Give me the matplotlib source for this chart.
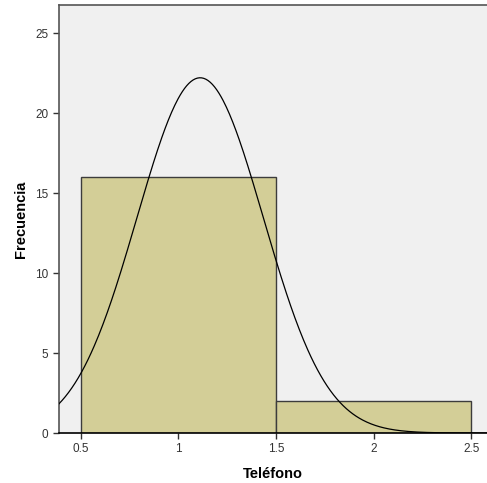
import matplotlib
matplotlib.use("Agg")
import matplotlib.pyplot as plt
import numpy as np

plt.rcParams['font.family'] = ['Liberation Sans', 'DejaVu Sans']

# datos del histograma (Teléfono)
bin_edges = [0.5, 1.5, 2.5]
counts = [16, 2]
bin_centers = [1, 2]
xticks = [0.5, 1, 1.5, 2, 2.5]
yticks = [0, 5, 10, 15, 20, 25]

# curva normal a partir de los datos
values = np.repeat(bin_centers, counts)
mu = values.mean()
sd = values.std(ddof=1)
n = len(values)
width = bin_edges[1] - bin_edges[0]

fig = plt.figure(figsize=(4.87, 4.83), dpi=100)
ax = fig.add_axes([0.121, 0.1035, 0.879, 0.886])
ax.set_facecolor("#f0f0f0")

ax.bar(bin_edges[:-1], counts, width=width, align="edge",
       color="#d3ce97", edgecolor="#3c3c3c", linewidth=1, zorder=2)

xs = np.linspace(0.388, 2.58, 400)
ys = n * width / (sd * np.sqrt(2 * np.pi)) * np.exp(-0.5 * ((xs - mu) / sd) ** 2)
ax.plot(xs, ys, color="black", linewidth=0.9, zorder=3)

ax.set_xlim(0.388, 2.58)
ax.set_ylim(0, 26.75)
ax.set_xticks(xticks)
ax.set_xticklabels(["0.5", "1", "1.5", "2", "2.5"])
ax.set_yticks(yticks)

for s in ["left", "bottom", "top"]:
    ax.spines[s].set_color("#555555")
    ax.spines[s].set_linewidth(1.2)
ax.spines["right"].set_visible(False)
ax.spines["bottom"].set_color("black")
ax.tick_params(axis="both", labelsize=8.5, colors="#333333", length=4, width=1)

ax.set_xlabel("Teléfono", fontsize=10.5, fontweight="bold", labelpad=8)
ax.set_ylabel("Frecuencia", fontsize=10.5, fontweight="bold", labelpad=5)

plt.savefig("out.png", dpi=100)
